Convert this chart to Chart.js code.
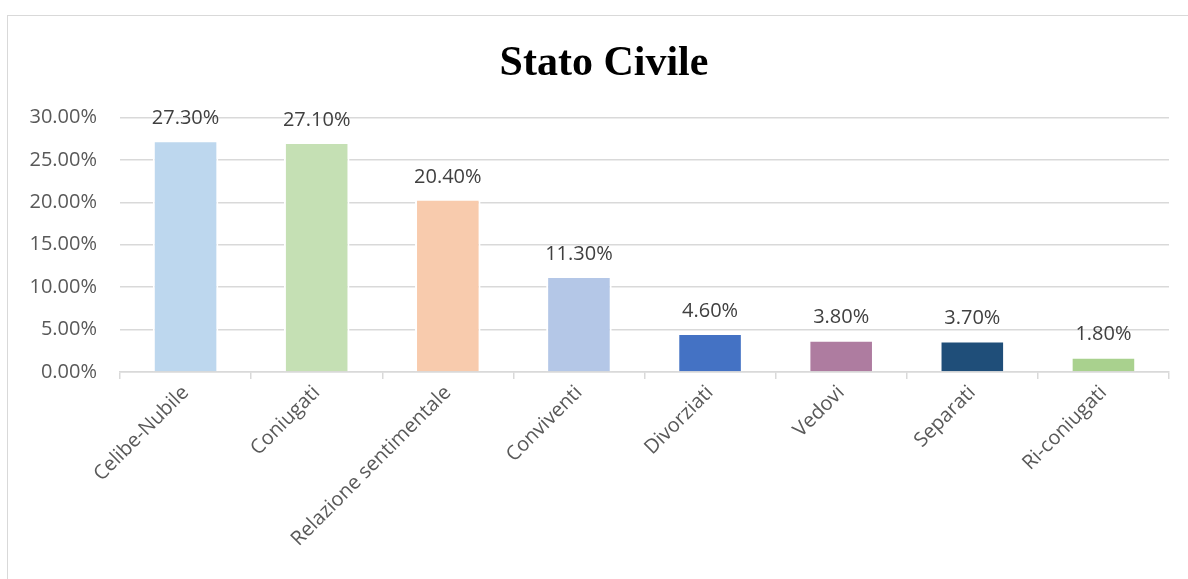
<!DOCTYPE html>
<html lang="it">
<head>
<meta charset="utf-8">
<title>Stato Civile</title>
<script src="https://cdn.jsdelivr.net/npm/chart.js"></script>
<style>
    html, body { margin: 0; padding: 0; background: #fff; }
    #wrap { position: relative; width: 1188px; height: 579px; overflow: hidden; }
    #frame {
        position: absolute; left: 7px; top: 15px; width: 1300px; height: 700px;
        border-left: 1px solid #d9d9d9; border-top: 1px solid #d9d9d9;
    }
    #chart { position: absolute; left: 0; top: 0; }
</style>
</head>
<body>
<div id="wrap">
    <div id="frame"></div>
    <canvas id="chart" width="1188" height="579"></canvas>
</div>
<script>
// Stato civile dei rispondenti (%)
const categories = [
    "Celibe-Nubile",
    "Coniugati",
    "Relazione sentimentale",
    "Conviventi",
    "Divorziati",
    "Vedovi",
    "Separati",
    "Ri-coniugati",
];
const values = [27.3, 27.1, 20.4, 11.3, 4.6, 3.8, 3.7, 1.8];
const barColors = [
    "#bdd7ee",
    "#c5e0b4",
    "#f8cbad",
    "#b4c7e7",
    "#4472c4",
    "#ae7ca0",
    "#1f4e79",
    "#a9d18e",
];

const labelFont = { family: "'Open Sans', sans-serif", size: 20 };

// value labels above each bar
const barValueLabels = {
    id: "barValueLabels",
    afterDatasetsDraw(chart) {
        const { ctx } = chart;
        const meta = chart.getDatasetMeta(0);
        ctx.save();
        ctx.font = `${labelFont.size}px ${labelFont.family}`;
        ctx.fillStyle = "#404040";
        ctx.textAlign = "center";
        ctx.textBaseline = "middle";
        meta.data.forEach((bar, i) => {
            const v = chart.data.datasets[0].data[i];
            ctx.fillText(v.toFixed(2) + "%", bar.x, bar.y - 22);
        });
        ctx.restore();
    },
};

// centre the title on the whole frame, not just on the canvas minus padding
const titleShift = {
    id: "titleShift",
    afterLayout(chart) {
        const t = chart.titleBlock;
        if (!t) return;
        t.left = 39;
        t.right = chart.chartArea.right;
    },
};

Chart.defaults.font.family = labelFont.family;

new Chart(document.getElementById("chart"), {
    type: "bar",
    data: {
        labels: categories,
        datasets: [
            {
                data: values,
                backgroundColor: barColors,
                borderColor: "#ffffff",
                borderWidth: 2,
                barPercentage: 0.5,
                categoryPercentage: 1,
            },
        ],
    },
    options: {
        responsive: false,
        animation: false,
        layout: { padding: { left: 0, right: 19, top: 0, bottom: 0 } },
        plugins: {
            legend: { display: false },
            tooltip: { enabled: false },
            title: {
                display: true,
                text: "Stato Civile",
                color: "#000",
                font: { family: "'Liberation Serif', 'Times New Roman', serif", size: 42, weight: "bold" },
                padding: { top: 39, bottom: 28 },
            },
        },
        scales: {
            y: {
                min: 0,
                max: 30,
                ticks: {
                    stepSize: 5,
                    color: "#595959",
                    font: labelFont,
                    padding: 23,
                    callback: (v) => v.toFixed(2) + "%",
                },
                grid: { color: "#d9d9d9", lineWidth: 1.5, drawTicks: false },
                border: { display: false },
                afterFit: (scale) => { scale.width = 120; },
            },
            x: {
                ticks: {
                    color: "#595959",
                    font: labelFont,
                    minRotation: 45,
                    maxRotation: 45,
                    padding: 2,
                },
                grid: {
                    offset: true,
                    drawOnChartArea: false,
                    color: "#d9d9d9",
                    lineWidth: 1.5,
                    tickLength: 7,
                },
                border: { color: "#d9d9d9", width: 1.5 },
                afterFit: (scale) => { scale.height = 207; },
            },
        },
    },
    plugins: [barValueLabels, titleShift],
});
</script>
</body>
</html>
